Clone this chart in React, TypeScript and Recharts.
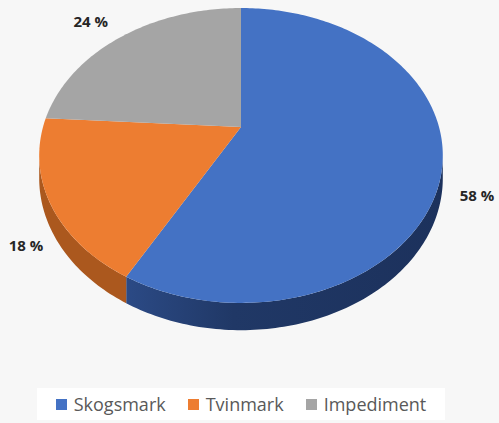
import { Cell, Legend, Pie, PieChart } from "recharts";

const categories = ["Skogsmark", "Tvinmark", "Impediment"];
const shares = [58, 18, 24];
const topColors = ["#4472C4", "#ED7D31", "#A5A5A5"];
const sideColors = ["url(#blueSide)", "#AB581E", "#7B7B7B"];

const data = categories.map((name, i) => ({ name, value: shares[i] }));

// fake 3D: tilt + a bit of perspective, depth pushed down
const TILT = 0.717;
const PERSP = 0.193;
const DEPTH = 22;
const SIL = (Math.asin(PERSP) * 180) / Math.PI;

function project(cx: number, cy: number, r: number, deg: number, f = 1, drop = 0) {
  const rad = (deg * Math.PI) / 180;
  const u = Math.cos(rad) * f;
  const v = -Math.sin(rad) * f;
  const w = 1 - PERSP * v;
  return [cx + (r * u) / w, cy + (r * TILT * v + drop) / w];
}

function arc(cx: number, cy: number, r: number, from: number, to: number, drop = 0) {
  const n = Math.max(2, Math.ceil(Math.abs(to - from)));
  const pts: string[] = [];
  for (let i = 0; i <= n; i++) {
    const [x, y] = project(cx, cy, r, from + ((to - from) * i) / n, 1, drop);
    pts.push(`${x.toFixed(2)},${y.toFixed(2)}`);
  }
  return pts;
}

function TopSector(props: any) {
  const { cx, cy, outerRadius, startAngle, endAngle, fill } = props;
  const pts = arc(cx, cy, outerRadius, startAngle, endAngle);
  return <path d={`M${cx},${cy} L${pts.join(" L")} Z`} fill={fill} stroke="none" />;
}

function SideSector(props: any) {
  const { cx, cy, outerRadius, startAngle, endAngle, fill } = props;
  // only the front wall shows
  const lo = Math.max(Math.min(startAngle, endAngle), -180 + SIL);
  const hi = Math.min(Math.max(startAngle, endAngle), -SIL);
  if (hi <= lo) return <g />;
  const top = arc(cx, cy, outerRadius, hi, lo);
  const bottom = arc(cx, cy, outerRadius, lo, hi, DEPTH);
  return <path d={`M${top.join(" L")} L${bottom.join(" L")} Z`} fill={fill} stroke="none" />;
}

function renderLabel(props: any) {
  const { cx, cy, outerRadius, midAngle, value } = props;
  const rad = (midAngle * Math.PI) / 180;
  const u = Math.cos(rad);
  const v = -Math.sin(rad) * 1.03;
  const [px, py] = project(cx, cy, outerRadius, midAngle, 1.03);
  const anchor = u > 0.3 ? "start" : u < -0.3 ? "end" : "middle";
  const gap = u < 0 && v > 0 ? 0 : 11;
  const x = anchor === "start" ? px + gap : anchor === "end" ? px - gap : px;
  const y = py + 19 + 43 * v;
  return (
    <text
      x={x}
      y={y}
      textAnchor={anchor}
      dominantBaseline="central"
      fill="#262626"
      fontSize={15}
      fontWeight={700}
      fontFamily="'Open Sans', sans-serif"
    >
      {`${value} %`}
    </text>
  );
}

function renderLegend() {
  return (
    <div
      style={{
        display: "flex",
        justifyContent: "center",
        alignItems: "center",
        height: "100%",
        background: "#ffffff",
        fontFamily: "'Open Sans', sans-serif",
        fontSize: 18,
        color: "#595959",
      }}
    >
      {categories.map((name, i) => (
        <span key={name} style={{ display: "inline-flex", alignItems: "center", marginLeft: i ? 22 : 0 }}>
          <span
            style={{ width: 11, height: 11, background: topColors[i], marginRight: 7, display: "inline-block" }}
          />
          {name}
        </span>
      ))}
    </div>
  );
}

export default function App() {
  return (
    <div style={{ position: "absolute", left: 0, top: 0, width: 499, height: 423, background: "#F7F7F7" }}>
      <PieChart width={499} height={423} margin={{ top: 0, right: 0, bottom: 0, left: 0 }}>
        <defs>
          <linearGradient id="blueSide" gradientUnits="userSpaceOnUse" x1={120} y1={0} x2={444} y2={0}>
            <stop offset="0" stopColor="#2C4B87" />
            <stop offset="0.35" stopColor="#203866" />
            <stop offset="1" stopColor="#1C315C" />
          </linearGradient>
          <filter id="pieShadow" x="-10%" y="-10%" width="130%" height="140%">
            <feDropShadow dx={3} dy={5} stdDeviation={4} floodColor="#000" floodOpacity={0.22} />
          </filter>
        </defs>
        <Pie
          data={data}
          dataKey="value"
          nameKey="name"
          cx={241}
          cy={127}
          outerRadius={198}
          startAngle={90}
          endAngle={-270}
          shape={SideSector}
          legendType="none"
          isAnimationActive={false}
          style={{ filter: "url(#pieShadow)" }}
        >
          {data.map((d, i) => (
            <Cell key={d.name} fill={sideColors[i]} />
          ))}
        </Pie>
        <Pie
          data={data}
          dataKey="value"
          nameKey="name"
          cx={241}
          cy={127}
          outerRadius={198}
          startAngle={90}
          endAngle={-270}
          shape={TopSector}
          label={renderLabel}
          labelLine={false}
          isAnimationActive={false}
        >
          {data.map((d, i) => (
            <Cell key={d.name} fill={topColors[i]} />
          ))}
        </Pie>
        <Legend
          content={renderLegend}
          wrapperStyle={{ position: "absolute", left: 37, top: 388, width: 408, height: 32 }}
        />
      </PieChart>
    </div>
  );
}
